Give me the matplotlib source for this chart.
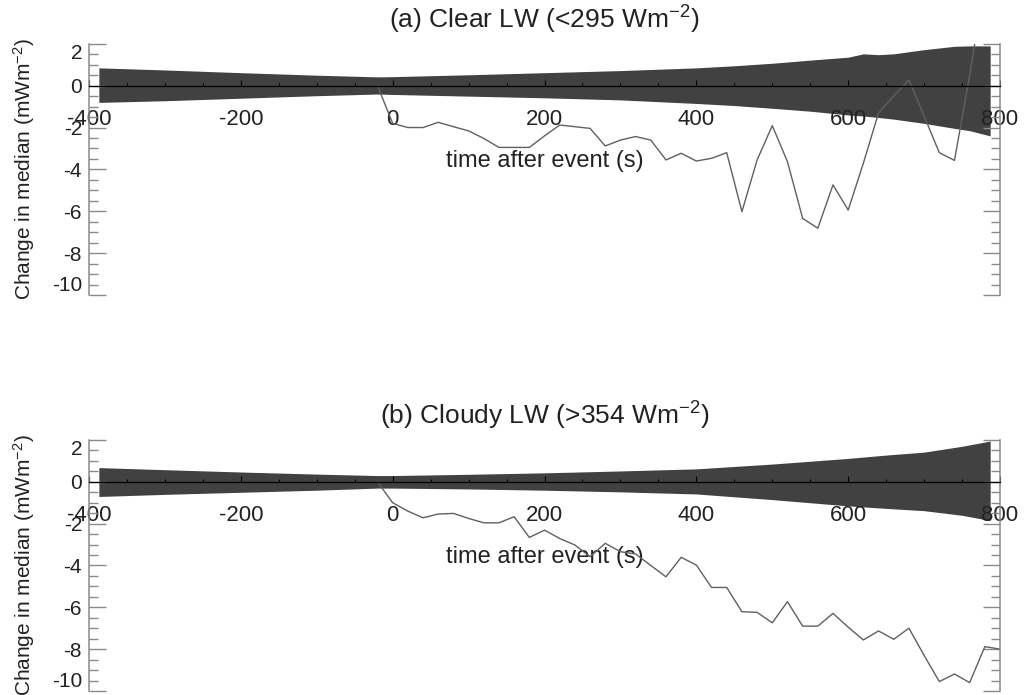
"""
Change in median LW flux around events, clear vs cloudy scenes.
Grey band = spread of the null distribution, line = composite change.
"""

import matplotlib
matplotlib.use("Agg")
import matplotlib.pyplot as plt
from matplotlib.ticker import MultipleLocator

plt.rcParams["font.family"] = ["Liberation Sans", "DejaVu Sans"]
plt.rcParams["mathtext.fontset"] = "custom"
plt.rcParams["mathtext.rm"] = "Liberation Sans"
plt.rcParams["mathtext.it"] = "Liberation Sans:italic"
plt.rcParams["axes.unicode_minus"] = False

# ---------------------------------------------------------------------------
# Data
# ---------------------------------------------------------------------------

# composite time grid, 20 s steps
TIME = list(range(-20, 801, 20))

CLEAR_CHANGE = [
    0.0, -1.8, -2.0, -2.0, -1.75, -1.96, -2.16, -2.52, -2.95, -2.95,
    -2.95, -2.4, -1.88, -1.96, -2.04, -2.88, -2.6, -2.43, -2.6, -3.55,
    -3.23, -3.6, -3.47, -3.2, -6.02, -3.55, -1.91, -3.63, -6.34, -6.81,
    -4.74, -5.94, -3.7, -1.3, -0.5, 0.27, -1.45, -3.2, -3.57, 0.5,
    5.0, 5.0,
]

CLOUDY_CHANGE = [
    0.0, -1.0, -1.4, -1.72, -1.54, -1.51, -1.75, -1.96, -1.96, -1.67,
    -2.66, -2.31, -2.71, -3.02, -3.58, -2.94, -3.34, -3.45, -4.0, -4.54,
    -3.61, -3.98, -5.05, -5.05, -6.21, -6.24, -6.74, -5.73, -6.9, -6.9,
    -6.29, -6.95, -7.56, -7.13, -7.53, -7.0, -8.3, -9.55, -9.19, -9.6,
    -7.88, -8.0,
]

# spread band (upper / lower edge)
CLEAR_BAND_T = [-387, -300, -200, -100, -20, 0, 100, 200, 300, 400, 450,
                500, 550, 600, 620, 640, 660, 700, 740, 760, 787]
CLEAR_BAND_HI = [0.85, 0.75, 0.62, 0.5, 0.42, 0.43, 0.52, 0.62, 0.72, 0.85,
                 0.95, 1.07, 1.22, 1.36, 1.52, 1.48, 1.52, 1.72, 1.88, 1.9, 1.9]
CLEAR_BAND_LO = [-0.8, -0.72, -0.6, -0.48, -0.4, -0.42, -0.5, -0.58, -0.68,
                 -0.85, -0.95, -1.08, -1.22, -1.4, -1.45, -1.52, -1.6, -1.8,
                 -2.04, -2.15, -2.4]

CLOUDY_BAND_T = [-387, -300, -200, -100, -20, 0, 100, 200, 300, 400, 500,
                 600, 650, 700, 750, 787]
CLOUDY_BAND_HI = [0.68, 0.58, 0.47, 0.37, 0.3, 0.3, 0.36, 0.43, 0.52, 0.62,
                  0.85, 1.12, 1.28, 1.42, 1.7, 1.95]
CLOUDY_BAND_LO = [-0.7, -0.6, -0.5, -0.4, -0.3, -0.3, -0.34, -0.4, -0.48,
                  -0.58, -0.85, -1.15, -1.27, -1.38, -1.6, -1.85]

TITLES = [r"(a) Clear LW (<295 Wm$^{-2}$)", r"(b) Cloudy LW (>354 Wm$^{-2}$)"]
YLABEL = r"Change in median (mWm$^{-2}$)"
XLABEL = "time after event (s)"

BAND_COLOR = "#414141"
LINE_COLOR = "#606060"
AXIS_GREY = "#8a8a8a"
TEXT = "#222222"

# ---------------------------------------------------------------------------
# Plot
# ---------------------------------------------------------------------------

fig = plt.figure(figsize=(10.24, 6.95), dpi=100)
ax_a = fig.add_axes([0.0869, 0.5755, 0.8897, 0.3615])
ax_b = fig.add_axes([0.0869, 0.0058, 0.8897, 0.3611])

panels = [
    (ax_a, CLEAR_BAND_T, CLEAR_BAND_LO, CLEAR_BAND_HI, CLEAR_CHANGE, TITLES[0]),
    (ax_b, CLOUDY_BAND_T, CLOUDY_BAND_LO, CLOUDY_BAND_HI, CLOUDY_CHANGE, TITLES[1]),
]

for ax, bt, blo, bhi, change, title in panels:
    ax.fill_between(bt, blo, bhi, color=BAND_COLOR, lw=0, zorder=1)
    ax.plot(TIME, change, color=LINE_COLOR, lw=1.0, zorder=2)

    ax.set_xlim(-400, 800)
    ax.set_ylim(-10, 2)

    # x axis drawn along y = 0, box only left/right
    ax.spines["bottom"].set_position(("data", 0))
    ax.spines["bottom"].set_color("black")
    ax.spines["bottom"].set_linewidth(0.9)
    ax.spines["bottom"].set_zorder(3)
    ax.spines["top"].set_visible(False)
    for side in ("left", "right"):
        ax.spines[side].set_color(AXIS_GREY)
        ax.spines[side].set_linewidth(1.1)

    ax.xaxis.set_major_locator(MultipleLocator(200))
    ax.xaxis.set_minor_locator(MultipleLocator(50))
    ax.yaxis.set_major_locator(MultipleLocator(2))
    ax.yaxis.set_minor_locator(MultipleLocator(0.5))

    ax.tick_params(axis="x", which="both", direction="in", colors="black",
                   labelcolor=TEXT, labelsize=16, pad=17, width=0.8)
    ax.tick_params(axis="x", which="major", length=4)
    ax.tick_params(axis="x", which="minor", length=2.5)
    ax.tick_params(axis="y", which="both", direction="in", left=True,
                   right=True, colors=AXIS_GREY, labelcolor=TEXT,
                   labelsize=15, pad=5, width=1.0)
    ax.tick_params(axis="y", which="major", length=12)
    ax.tick_params(axis="y", which="minor", length=6.5)

    ax.set_xlabel(XLABEL, fontsize=17, color=TEXT, labelpad=14)
    ax.set_ylabel(YLABEL, fontsize=15, color=TEXT, labelpad=11)
    ax.set_title(title, fontsize=19, color=TEXT, pad=11)
    ax.set_facecolor("none")

    # end labels of the y axis are kept inside the axis span
    fig.canvas.draw()
    yticks = ax.yaxis.get_major_ticks()
    yvals = ax.yaxis.get_majorticklocs()
    for tk, v in zip(yticks, yvals):
        if v == 2:
            tk.label1.set_verticalalignment("top")
        elif v == -10:
            tk.label1.set_verticalalignment("bottom")

fig.savefig("out.png", dpi=100)
plt.close(fig)
